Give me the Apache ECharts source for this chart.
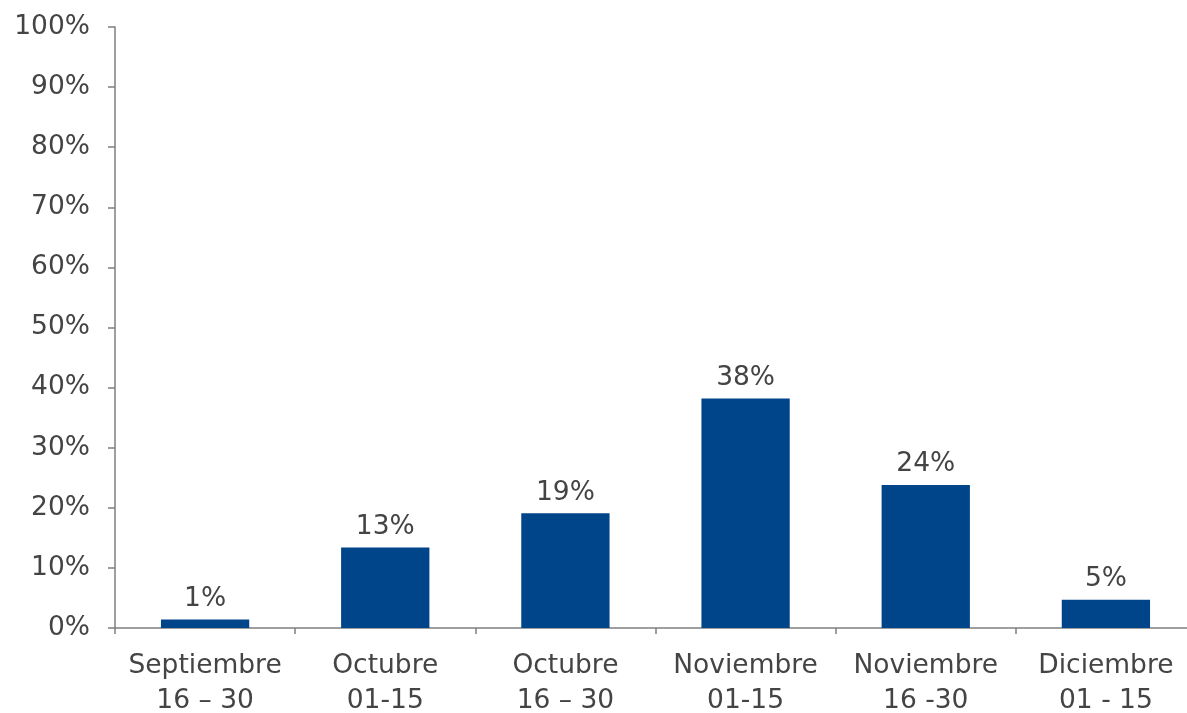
<!DOCTYPE html>
<html>
<head>
<meta charset="utf-8">
<script src="https://cdn.jsdelivr.net/npm/echarts@6/dist/echarts.min.js"></script>
<style>
html,body{margin:0;padding:0;background:#fff;}
#chart{width:1187px;height:713px;}
</style>
</head>
<body>
<div id="chart"></div>
<script>
const categories = ["Septiembre\n16 – 30", "Octubre\n01-15", "Octubre\n16 – 30", "Noviembre\n01-15", "Noviembre\n16 -30", "Diciembre\n01 - 15"];
const values = [1.4, 13.4, 19.1, 38.2, 23.8, 4.7];
const yTicks = [0, 10, 20, 30, 40, 50, 60, 70, 80, 90, 100];

const chart = echarts.init(document.getElementById('chart'), null, {renderer: 'canvas'});
const font = 'DejaVu Sans, Verdana, sans-serif';
chart.setOption({
  animation: false,
  backgroundColor: '#ffffff',
  grid: {left: 115, top: 27, bottom: 85, width: 1081, containLabel: false, outerBoundsMode: 'none'},
  xAxis: {
    type: 'category',
    data: categories,
    axisLine: {show: true, lineStyle: {color: '#7f7f7f', width: 1.5}},
    axisTick: {show: true, alignWithLabel: false, length: 6, lineStyle: {color: '#7f7f7f', width: 1.5}},
    axisLabel: {color: '#444444', fontFamily: font, fontSize: 26.5, lineHeight: 35, margin: 21, interval: 0}
  },
  yAxis: {
    type: 'value',
    min: yTicks[0],
    max: yTicks[yTicks.length - 1],
    interval: 10,
    axisLine: {show: true, lineStyle: {color: '#7f7f7f', width: 1.5}},
    axisTick: {show: true, length: 7, lineStyle: {color: '#7f7f7f', width: 1.5}},
    splitLine: {show: false},
    axisLabel: {color: '#444444', fontFamily: font, fontSize: 26.5, margin: 25, formatter: v => v + '%'}
  },
  series: [{
    type: 'bar',
    data: values,
    barWidth: '49%',
    itemStyle: {color: '#00448a'},
    label: {show: true, position: 'top', distance: 7, color: '#444444', fontFamily: font, fontSize: 26.5,
      formatter: p => Math.round(p.value) + '%'}
  }]
});
</script>
</body>
</html>
